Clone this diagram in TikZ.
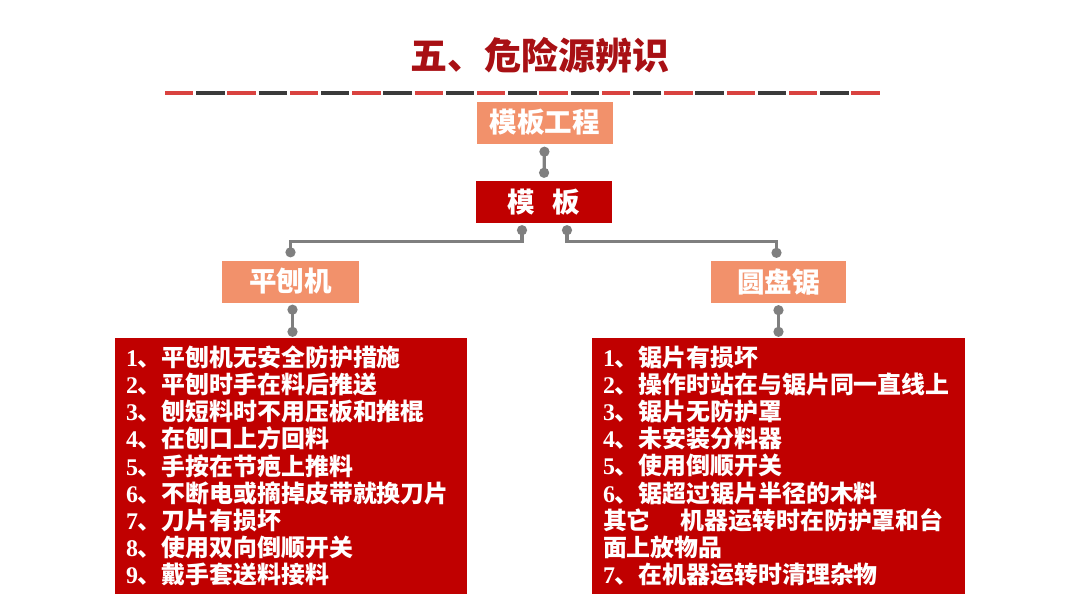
\documentclass[tikz,border=0pt]{standalone}
\usepackage{fontspec}
\usetikzlibrary{arrows.meta}
\newfontfamily\cjk{Noto Sans CJK SC}
\newfontfamily\numf{Liberation Serif}
\definecolor{titlered}{RGB}{168,16,20}
\definecolor{salmon}{RGB}{242,145,107}
\definecolor{boxred}{RGB}{192,0,0}
\definecolor{dashred}{RGB}{217,66,63}
\definecolor{dashdark}{RGB}{58,58,58}
\definecolor{conngray}{RGB}{127,127,127}
\newcommand{\myitem}[2]{{\numf\bfseries #1}、#2}
\tikzset{
  lightbox/.style={fill=salmon, text=white, minimum width=136pt, minimum height=42pt, inner sep=0pt,
    font=\cjk\bfseries\fontsize{27.5pt}{30pt}\selectfont},
  darkbox/.style={fill=boxred, text=white, minimum width=136pt, minimum height=42pt, inner sep=0pt,
    font=\cjk\bfseries\fontsize{27.5pt}{30pt}\selectfont},
  listbox/.style={fill=boxred, text=white, minimum height=256pt, inner xsep=11pt, inner ysep=0pt, align=left,
    font=\cjk\bfseries\fontsize{23.9pt}{27.15pt}\selectfont},
  conn/.style={draw=conngray, line width=3.2pt, {Circle[length=10pt]}-{Circle[length=10pt]}},
}
\begin{document}
\begin{tikzpicture}[x=1pt,y=-1pt]
\useasboundingbox (0,0) rectangle (1080,608);
% title
\node[text=titlered, font=\cjk\bfseries\fontsize{37pt}{40pt}\selectfont] (title) at (540,55) {五、危险源辨识};
% dashed rule
\draw[dashred, line width=4pt, dash pattern=on 28.4pt off 34pt] (165,93) -- (883,93);
\draw[dashdark, line width=4pt, dash pattern=on 28.4pt off 34pt] (196.2,93) -- (852,93);
% boxes
\node[lightbox] (mbgc) at (544.5,122.5) {模板工程};
\node[darkbox] (mb) at (544,202) {模\hspace{18pt}板};
\node[lightbox, minimum width=137pt] (ppj) at (290.5,281.5) {平刨机};
\node[lightbox, minimum width=135pt] (ypj) at (778.5,282) {圆盘锯};
\node[listbox, text width=330pt] (ll) at (291,466) {%
\myitem{1}{平刨机无安全防护措施}\\
\myitem{2}{平刨时手在料后推送}\\
\myitem{3}{刨短料时不用压板和推棍}\\
\myitem{4}{在刨口上方回料}\\
\myitem{5}{手按在节疤上推料}\\
\myitem{6}{不断电或摘掉皮带就换刀片}\\
\myitem{7}{刀片有损坏}\\
\myitem{8}{使用双向倒顺开关}\\
\myitem{9}{戴手套送料接料}};
\node[listbox, text width=351pt] (rl) at (778.5,466) {%
\myitem{1}{锯片有损坏}\\
\myitem{2}{操作时站在与锯片同一直线上}\\
\myitem{3}{锯片无防护罩}\\
\myitem{4}{未安装分料器}\\
\myitem{5}{使用倒顺开关}\\
\myitem{6}{锯超过锯片半径的木料}\\
其它\hspace{30pt}机器运转时在防护罩和台\\
面上放物品\\
\myitem{7}{在机器运转时清理杂物}};
% connectors
\draw[conn] ([yshift=-3pt]mbgc.south) -- ([yshift=3pt]mb.north);
\draw[conn] ([xshift=-22pt,yshift=-2pt]mb.south) -- ++(0,16) -| ([yshift=3pt]ppj.north);
\draw[conn] ([xshift=23pt,yshift=-2pt]mb.south) -- ++(0,16) -| ([xshift=-2pt,yshift=3pt]ypj.north);
\draw[conn] ([xshift=2pt,yshift=-2pt]ppj.south) -- ([xshift=2pt,yshift=1pt]ppj.south |- ll.north);
\draw[conn] ([yshift=-2pt]ypj.south) -- ([yshift=1pt]ypj.south |- rl.north);
\end{tikzpicture}
\end{document}
